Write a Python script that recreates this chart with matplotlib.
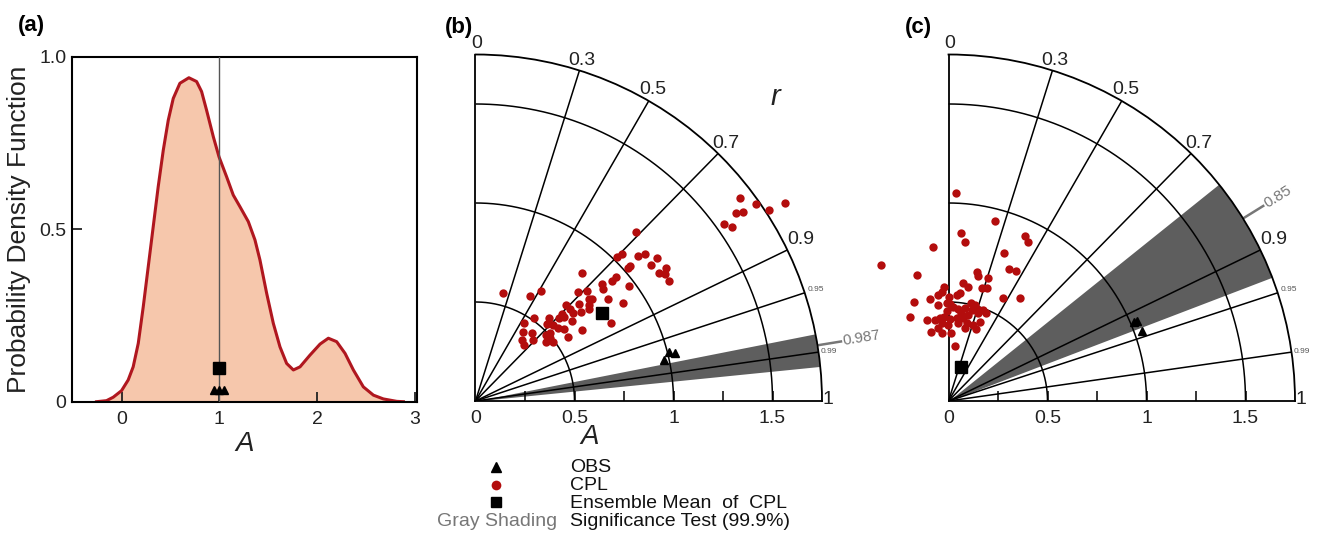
import numpy as np
import matplotlib
matplotlib.use('Agg')
import matplotlib.pyplot as plt

plt.rcParams['font.family'] = ['Liberation Sans', 'DejaVu Sans']

# ---------------- data ----------------
# panel (a): PDF of A
pdf_x = [-0.256, -0.154, -0.085, 0.0, 0.068, 0.119, 0.171, 0.222, 0.273, 0.324, 0.375,
         0.427, 0.478, 0.529, 0.597, 0.689, 0.768, 0.819, 0.870, 0.939, 0.997, 1.075,
         1.143, 1.212, 1.297, 1.365, 1.416, 1.485, 1.553, 1.621, 1.689, 1.758, 1.826,
         1.928, 2.031, 2.116, 2.201, 2.287, 2.372, 2.474, 2.577, 2.679, 2.816, 2.884]
pdf_y = [0.0, 0.003, 0.013, 0.032, 0.063, 0.101, 0.169, 0.275, 0.391, 0.507, 0.623,
         0.729, 0.816, 0.879, 0.923, 0.939, 0.928, 0.899, 0.845, 0.768, 0.710, 0.652,
         0.599, 0.565, 0.522, 0.469, 0.411, 0.314, 0.227, 0.159, 0.111, 0.092, 0.101,
         0.135, 0.167, 0.184, 0.174, 0.140, 0.092, 0.043, 0.019, 0.008, 0.001, 0.0]
a_obs_x = [0.95, 1.00, 1.05]
a_obs_y = [0.034, 0.034, 0.034]
a_mean_x = [1.0]
a_mean_y = [0.097]

# panel (b): Taylor diagram (correlation r, normalised amplitude A)
cpl_b_A = [1.684, 1.731, 1.856, 1.769, 1.623, 1.656, 1.540, 1.566, 1.177, 1.046, 1.022,
           1.099, 1.133, 1.167, 1.122, 1.037, 1.022, 1.174, 1.130, 1.150, 1.151, 0.840,
           0.946, 0.920, 0.868, 0.856, 0.969, 0.758, 0.793, 0.771, 0.781, 0.843, 0.895,
           0.719, 0.750, 0.697, 0.738, 0.790, 0.564, 0.648, 0.599, 0.668, 0.668, 0.663,
           0.618, 0.617, 0.596, 0.633, 0.515, 0.559, 0.463, 0.529, 0.549, 0.556, 0.576,
           0.645, 0.570, 0.510, 0.488, 0.423, 0.444, 0.492, 0.494, 0.465, 0.386, 0.422,
           0.374]
cpl_b_r = [0.793, 0.818, 0.843, 0.838, 0.810, 0.817, 0.815, 0.827, 0.689, 0.706, 0.701,
           0.745, 0.755, 0.787, 0.790, 0.752, 0.752, 0.821, 0.821, 0.831, 0.849, 0.639,
           0.748, 0.751, 0.734, 0.750, 0.802, 0.685, 0.712, 0.746, 0.753, 0.792, 0.834,
           0.729, 0.763, 0.764, 0.779, 0.866, 0.244, 0.511, 0.460, 0.685, 0.717, 0.740,
           0.705, 0.724, 0.711, 0.768, 0.577, 0.664, 0.530, 0.680, 0.715, 0.751, 0.778,
           0.831, 0.822, 0.737, 0.730, 0.563, 0.639, 0.765, 0.795, 0.765, 0.604, 0.684,
           0.655]
obs_b_A = [0.974, 1.009, 1.039]
obs_b_r = [0.977, 0.970, 0.972]
mean_b_A = [0.776]
mean_b_r = [0.821]
band_b = [0.981, 0.995]
sig_b = 0.987

# panel (c)
cpl_c_A = [1.050, 0.939, 0.849, 0.809, 0.783, 0.920, 0.896, 0.800, 0.768, 0.656, 0.668,
           0.649, 0.733, 0.739, 0.653, 0.596, 0.604, 0.599, 0.585, 0.578, 0.553, 0.538,
           0.550, 0.522, 0.588, 0.634, 0.530, 0.468, 0.360, 0.347, 0.342, 0.280, 0.524,
           0.537, 0.488, 0.494, 0.488, 0.474, 0.466, 0.476, 0.509, 0.503, 0.474, 0.485,
           0.492, 0.484, 0.424, 0.415, 0.420, 0.426, 0.413, 0.423, 0.424, 0.446, 0.468,
           0.394, 0.384, 0.399, 0.403, 0.404, 0.431, 0.371, 0.376, 0.387, 0.455, 0.449]
cpl_c_r = [0.036, 0.250, 0.073, 0.103, -0.102, 0.420, 0.446, 0.351, -0.446, -0.245, 0.213,
           0.232, 0.417, 0.459, 0.303, 0.281, 0.319, 0.120, 0.166, -0.037, -0.062, -0.096,
           0.106, -0.179, 0.471, 0.569, -0.326, -0.415, -0.246, -0.099, 0.037, 0.117, 0.005,
           0.077, -0.106, -0.018, 0.016, 0.051, 0.106, 0.175, 0.223, 0.266, 0.247, 0.294,
           0.357, 0.388, -0.260, -0.164, -0.102, -0.050, 0.018, 0.098, 0.176, 0.224, 0.322,
           -0.087, -0.003, 0.124, 0.228, 0.310, 0.369, -0.139, 0.221, 0.355, -0.017, 0.141]
obs_c_A = [1.019, 1.036, 1.041]
obs_c_r = [0.920, 0.920, 0.940]
mean_c_A = [0.181]
mean_c_r = [0.341]
band_c = [0.78, 0.934]
sig_c = 0.85

corr_lines = [0.3, 0.5, 0.7, 0.9, 0.95, 0.99]
corr_labels = ['0', '0.3', '0.5', '0.7', '0.9', '1']
corr_label_vals = [0.0, 0.3, 0.5, 0.7, 0.9, 1.0]
small_labels = ['0.95', '0.99']
arcs = [0.5, 1.0, 1.5]
r_ticks = [0.0, 0.5, 1.0, 1.5]
r_tick_labels = ['0', '0.5', '1', '1.5']
r_minor = [0.25, 0.5, 0.75, 1.0, 1.25, 1.5]
RMAX = 1.75

# ---------------- style ----------------
W, H, DPI = 1317, 533, 100
FILL = '#F6C7AC'
LINE = '#B0171F'
RED = '#B30D0D'
SHADE = '#5E5E5E'
GRAYTXT = '#777777'

fig = plt.figure(figsize=(W / DPI, H / DPI), dpi=DPI)


def rect(l, t, r, b):
    return [l / W, 1 - b / H, (r - l) / W, (b - t) / H]


# ---------------- panel (a) ----------------
axa = fig.add_axes(rect(71.7, 56.7, 416.7, 401.7))
axa.fill_between(pdf_x, pdf_y, 0, color=FILL, lw=0, zorder=1)
axa.plot(pdf_x, pdf_y, color=LINE, lw=2.2, zorder=2, solid_joinstyle='round')
axa.axvline(1.0, color='#555555', lw=1.0, zorder=3)
axa.plot(a_obs_x, a_obs_y, ls='none', marker='^', ms=6, color='k', zorder=4)
axa.plot(a_mean_x, a_mean_y, ls='none', marker='s', ms=8.5, color='k', zorder=4)
axa.set_xlim(-0.51, 3.02)
axa.set_ylim(0, 1.0)
axa.set_xticks([0, 1, 2, 3])
axa.set_xticklabels(['0', '1', '2', '3'])
axa.set_yticks([0, 0.5, 1.0])
axa.set_yticklabels(['0', '0.5', '1.0'])
axa.tick_params(direction='in', length=7, width=1.3, labelsize=14, colors='#222222')
axa.tick_params(axis='x', pad=7)
axa.tick_params(axis='y', pad=4)
for sp in axa.spines.values():
    sp.set_linewidth(1.5)
axa.set_ylabel('Probability Density Function', fontsize=19, labelpad=6, color='#222222')
axa.set_xlabel('A', fontsize=20, fontstyle='italic', labelpad=2, color='#222222')


# ---------------- Taylor panels ----------------
def taylor(box, cpl_r, cpl_A, obs_r, obs_A, mean_r, mean_A, band, sig):
    ax = fig.add_axes(box, projection='polar')
    ax.set_thetamin(0)
    ax.set_thetamax(90)
    ax.set_rlim(0, RMAX)
    ax.set_xticks([])
    ax.set_yticks([])
    ax.grid(False)
    for sp in ax.spines.values():
        sp.set_linewidth(1.3)
        sp.set_color('k')
    # significance shading
    th = np.linspace(np.arccos(band[1]), np.arccos(band[0]), 80)
    ax.fill_between(th, 0, RMAX, color=SHADE, lw=0, zorder=1)
    # arcs
    tt = np.linspace(0, np.pi / 2, 300)
    for R in arcs:
        ax.plot(tt, np.full_like(tt, R), color='k', lw=1.1, zorder=2)
    # correlation lines
    for c in corr_lines:
        t = np.arccos(c)
        ax.plot([t, t], [0, RMAX], color='k', lw=1.1, zorder=2)
    # minor ticks along the A axis
    ax.plot(np.zeros(len(r_minor)), r_minor, ls='none', marker=2, ms=7, mew=1.1,
            color='k', zorder=3, clip_on=False)
    # A tick labels
    for R, lab in zip(r_ticks, r_tick_labels):
        ax.annotate(lab, xy=(0, R), xytext=(0, -9), textcoords='offset pixels',
                    ha='center', va='top', fontsize=14, color='#222222',
                    annotation_clip=False)
    # correlation labels
    offs = {0.0: (1, 11), 0.3: (2, 10), 0.5: (4, 11), 0.7: (8, 10), 0.9: (13, 10), 1.0: (6, 1)}
    for c, lab in zip(corr_label_vals, corr_labels):
        ax.annotate(lab, xy=(np.arccos(c), RMAX), xytext=offs[c], textcoords='offset pixels',
                    ha='center', va='center', fontsize=14, color='#222222',
                    annotation_clip=False)
    for c, lab, o in zip([0.95, 0.99], small_labels, [(3, 3), (2, 1)]):
        ax.annotate(lab, xy=(np.arccos(c), RMAX), xytext=o, textcoords='offset pixels',
                    ha='left', va='center', fontsize=6, color='#555555',
                    annotation_clip=False)
    # significance line beyond the arc
    ts = np.arccos(sig)
    ax.plot([ts, ts], [RMAX, 1.87], color=GRAYTXT, lw=1.8, zorder=2, clip_on=False)
    ax.annotate('%g' % sig, xy=(ts, 1.88), xytext=(0, 0), textcoords='offset pixels',
                ha='left', va='center', fontsize=11, color=GRAYTXT,
                rotation=np.degrees(ts), rotation_mode='anchor', annotation_clip=False)
    # data
    ax.plot(np.arccos(cpl_r), cpl_A, ls='none', marker='o', ms=6, color=RED,
            mec='none', zorder=5, clip_on=False)
    ax.plot(np.arccos(mean_r), mean_A, ls='none', marker='s', ms=9, color='k',
            zorder=6, clip_on=False)
    ax.plot(np.arccos(obs_r), obs_A, ls='none', marker='^', ms=6, color='k',
            zorder=6, clip_on=False)
    return ax


S = 198.0
axb = taylor(rect(475.5, 401 - RMAX * S, 475.5 + RMAX * S, 401),
             cpl_b_r, cpl_b_A, obs_b_r, obs_b_A, mean_b_r, mean_b_A, band_b, sig_b)
axc = taylor(rect(948.5, 401 - RMAX * S, 948.5 + RMAX * S, 401),
             cpl_c_r, cpl_c_A, obs_c_r, obs_c_A, mean_c_r, mean_c_A, band_c, sig_c)

# ---------------- overlay: labels & legend ----------------
ov = fig.add_axes([0, 0, 1, 1], zorder=10)
ov.set_xlim(0, W)
ov.set_ylim(H, 0)
ov.axis('off')
ov.patch.set_alpha(0)

for txt, x, y in [('(a)', 31, 25), ('(b)', 459, 28), ('(c)', 918, 28)]:
    ov.text(x, y, txt, fontsize=16, fontweight='bold', ha='center', va='center')
ov.text(775, 97, 'r', fontsize=21, fontstyle='italic', ha='center', va='center', color='#222222')
ov.text(590, 437, 'A', fontsize=20, fontstyle='italic', ha='center', va='center', color='#222222')

ov.plot([496], [466.7], ls='none', marker='^', ms=7, color='k')
ov.plot([496], [485], ls='none', marker='o', ms=7, color=RED, mec='none')
ov.plot([496], [501.7], ls='none', marker='s', ms=7, color='k')
leg_txt = ['OBS', 'CPL', 'Ensemble Mean  of  CPL', 'Significance Test (99.9%)']
leg_y = [467, 485, 503, 521.5]
for t, y in zip(leg_txt, leg_y):
    ov.text(570, y, t, fontsize=14, ha='left', va='center', color='#111111')
ov.text(557, 521.5, 'Gray Shading', fontsize=14, ha='right', va='center', color=GRAYTXT)

fig.savefig('out.png', dpi=DPI)
